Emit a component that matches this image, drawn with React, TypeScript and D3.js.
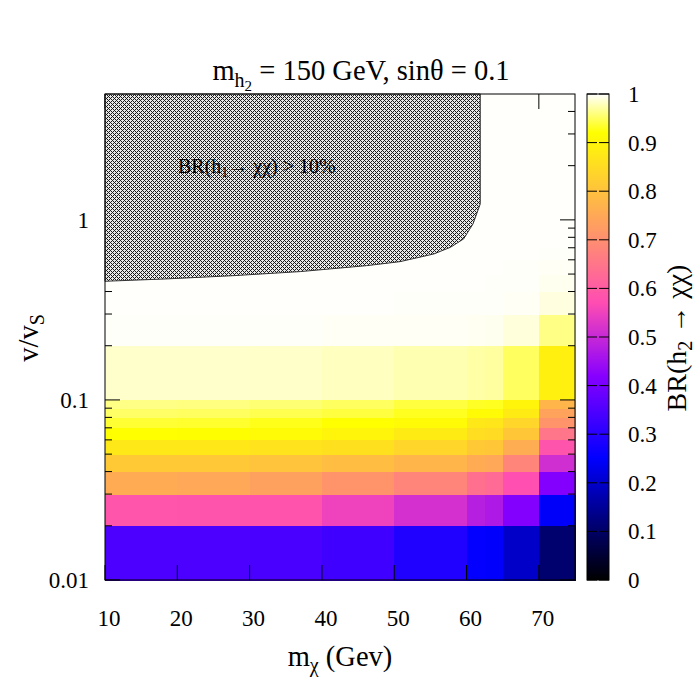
import React from 'react';
import * as d3 from 'd3';

// grid edges of the scan (m_chi in GeV, v/v_S)
const mChiEdges = [10, 20, 30, 40, 50, 60, 62.5, 65, 70, 75];
const vEdges = [
  0.01, 0.02, 0.03, 0.04, 0.05, 0.06, 0.07, 0.08, 0.09,
  0.1, 0.2, 0.3, 0.4, 0.5, 0.6, 0.7, 0.8, 0.9,
  1, 2, 3, 4, 5,
];

// BR(h2 -> chi chi), one row per v/v_S band (bottom to top), one value per m_chi column
const brValues = [
  [0.345, 0.345, 0.343, 0.33, 0.29, 0.255, 0.247, 0.196, 0.108],
  [0.587, 0.585, 0.583, 0.55, 0.515, 0.48, 0.47, 0.415, 0.245],
  [0.755, 0.75, 0.735, 0.71, 0.68, 0.64, 0.63, 0.575, 0.415],
  [0.815, 0.812, 0.805, 0.79, 0.775, 0.755, 0.75, 0.68, 0.51],
  [0.875, 0.872, 0.865, 0.86, 0.84, 0.815, 0.81, 0.76, 0.585],
  [0.92, 0.918, 0.91, 0.9, 0.88, 0.855, 0.85, 0.81, 0.65],
  [0.936, 0.934, 0.928, 0.92, 0.91, 0.875, 0.87, 0.84, 0.71],
  [0.952, 0.95, 0.945, 0.94, 0.93, 0.912, 0.91, 0.88, 0.74],
  [0.962, 0.96, 0.956, 0.95, 0.94, 0.932, 0.93, 0.9, 0.775],
  [0.984, 0.984, 0.983, 0.98, 0.976, 0.972, 0.97, 0.95, 0.89],
  [0.998, 0.998, 0.998, 0.997, 0.997, 0.996, 0.995, 0.989, 0.962],
  [0.999, 0.999, 0.999, 0.999, 0.998, 0.998, 0.998, 0.997, 0.99],
  [0.999, 0.999, 0.999, 0.999, 0.999, 0.999, 0.998, 0.998, 0.995],
  [0.999, 0.999, 0.999, 0.999, 0.999, 0.999, 0.999, 0.998, 0.997],
  [0.999, 0.999, 0.999, 0.999, 0.999, 0.999, 0.999, 0.999, 0.998],
  [0.999, 0.999, 0.999, 0.999, 0.999, 0.999, 0.999, 0.999, 0.999],
  [0.999, 0.999, 0.999, 0.999, 0.999, 0.999, 0.999, 0.999, 0.999],
  [0.999, 0.999, 0.999, 0.999, 0.999, 0.999, 0.999, 0.999, 0.999],
  [0.999, 0.999, 0.999, 0.999, 0.999, 0.999, 0.999, 0.999, 0.999],
  [0.999, 0.999, 0.999, 0.999, 0.999, 0.999, 0.999, 0.999, 0.999],
  [0.999, 0.999, 0.999, 0.999, 0.999, 0.999, 0.999, 0.999, 0.999],
  [0.999, 0.999, 0.999, 0.999, 0.999, 0.999, 0.999, 0.999, 0.999],
];

// boundary of the BR(h1 -> chi chi) > 10% region
const boundaryMChi = [10, 18.5, 27.8, 37, 46.2, 50.8, 55.5, 57.8, 59.6, 60.9, 61.9, 61.9, 10];
const boundaryV = [0.456, 0.47, 0.49, 0.516, 0.557, 0.586, 0.647, 0.705, 0.784, 0.95, 1.227, 5, 5];

const xTicks = [10, 20, 30, 40, 50, 60, 70];
const yMajor = [0.01, 0.1, 1];
const yMinor = [0.02, 0.03, 0.04, 0.05, 0.06, 0.07, 0.08, 0.09, 0.2, 0.3, 0.4, 0.5, 0.6, 0.7, 0.8, 0.9, 2, 3, 4];
const yLabels = ['0.01', '0.1', '1'];
const cbTicks = [0, 0.1, 0.2, 0.3, 0.4, 0.5, 0.6, 0.7, 0.8, 0.9, 1];
const cbLabels = ['0', '0.1', '0.2', '0.3', '0.4', '0.5', '0.6', '0.7', '0.8', '0.9', '1'];

// gnuplot rgbformulae 30,31,32
const clamp = (v: number) => Math.max(0, Math.min(1, v));
const palette = (t: number) => {
  const r = clamp(t / 0.32 - 0.78125);
  const g = clamp(2 * t - 0.84);
  let b: number;
  if (t < 0.25) b = 4 * t;
  else if (t < 0.42) b = 1;
  else if (t < 0.92) b = -2 * t + 1.84;
  else b = t / 0.08 - 11.5;
  b = clamp(b);
  return d3.rgb(r * 255, g * 255, b * 255).toString();
};

const FONT = '"Liberation Serif", "Times New Roman", serif';

// pixel tile for the crosshatch fill (4x4)
const hatchDots = [[0, 0], [1, 1], [2, 2], [3, 3], [1, 3], [3, 1]];

const App = () => {
  const left = 105, right = 575, top = 94, bottom = 580;
  const x = d3.scaleLinear().domain([10, 75]).range([left, right]);
  const y = d3.scaleLog().domain([0.01, 5]).range([bottom, top]);

  const cbLeft = 587, cbRight = 609;
  const cb = d3.scaleLinear().domain([0, 1]).range([bottom, top]);
  const cbSteps = d3.range(bottom, top, -1);

  const cells: { x0: number; x1: number; y0: number; y1: number; v: number }[] = [];
  brValues.forEach((row, i) => {
    row.forEach((v, j) => {
      cells.push({
        x0: x(mChiEdges[j]), x1: x(mChiEdges[j + 1]),
        y0: y(vEdges[i + 1]), y1: y(vEdges[i]), v,
      });
    });
  });

  const hatchPath = d3.line<number>()
    .x(i => x(boundaryMChi[i]))
    .y(i => y(boundaryV[i]))(d3.range(boundaryMChi.length)) + 'Z';

  const major = 15, minor = 7;

  return (
    <svg width={700} height={700} style={{ position: 'absolute', left: 0, top: 0, background: '#fff' }}
      fontFamily={FONT}>
      <defs>
        <pattern id="xhatch" width={4} height={4} patternUnits="userSpaceOnUse">
          <rect width={4} height={4} fill="#e8e8e8" />
          {hatchDots.map(([px, py], i) => (
            <rect key={i} x={px} y={py} width={1} height={1} fill="#1a1a1a" shapeRendering="crispEdges" />
          ))}
        </pattern>
      </defs>
      <rect width={700} height={700} fill="#fff" />

      {/* heatmap */}
      <g shapeRendering="crispEdges">
        {cells.map((c, i) => (
          <rect key={i} x={c.x0} y={c.y0} width={c.x1 - c.x0 + 0.5} height={c.y1 - c.y0 + 0.5}
            fill={palette(c.v)} />
        ))}
      </g>

      {/* ticks */}
      <g stroke="#000" strokeWidth={1}>
        {xTicks.map(t => (
          <g key={t}>
            <line x1={x(t)} x2={x(t)} y1={bottom} y2={bottom - major} />
            <line x1={x(t)} x2={x(t)} y1={top} y2={top + major} />
          </g>
        ))}
        {yMajor.map(t => (
          <g key={t}>
            <line x1={left} x2={left + major} y1={y(t)} y2={y(t)} />
            <line x1={right} x2={right - major} y1={y(t)} y2={y(t)} />
          </g>
        ))}
        {yMinor.map(t => (
          <g key={t}>
            <line x1={left} x2={left + minor} y1={y(t)} y2={y(t)} />
            <line x1={right} x2={right - minor} y1={y(t)} y2={y(t)} />
          </g>
        ))}
      </g>

      {/* excluded region */}
      <path d={hatchPath} fill="url(#xhatch)" stroke="#333" strokeWidth={1} />
      <text x={178} y={173} fontSize={20} fill="#000">
        BR(h<tspan fontSize={14} dy={4}>1</tspan><tspan dy={-4}>→ χχ) &gt; 10%</tspan>
      </text>

      <rect x={left} y={top} width={right - left} height={bottom - top} fill="none" stroke="#000" strokeWidth={1} />

      {/* tick labels */}
      <g fontSize={23} fill="#000">
        {xTicks.map(t => (
          <text key={t} x={x(t) + 4} y={626} textAnchor="middle">{t}</text>
        ))}
        {yMajor.map((t, i) => (
          <text key={t} x={89} y={y(t) + 8} textAnchor="end">{yLabels[i]}</text>
        ))}
      </g>

      {/* title and axis labels */}
      <text x={361} y={80} textAnchor="middle" fontSize={28.5}>
        m<tspan fontSize={20} dy={7}>h</tspan><tspan fontSize={15} dy={4}>2</tspan>
        <tspan dy={-11}> = 150 GeV, sinθ = 0.1</tspan>
      </text>
      <text x={340} y={666} textAnchor="middle" fontSize={28.5}>
        m<tspan fontSize={20} dy={6}>χ</tspan><tspan dy={-6}> (Gev)</tspan>
      </text>
      <text transform="translate(38,338) rotate(-90)" textAnchor="middle" fontSize={28.5}>
        v/v<tspan fontSize={20} dy={6}>S</tspan>
      </text>

      {/* colour box */}
      <g shapeRendering="crispEdges">
        {cbSteps.map(py => (
          <rect key={py} x={cbLeft} y={py - 1} width={cbRight - cbLeft} height={1.2}
            fill={palette(cb.invert(py - 0.5))} />
        ))}
      </g>
      <g stroke="#000" strokeWidth={1}>
        {cbTicks.map(t => (
          <g key={t}>
            <line x1={cbLeft} x2={cbLeft + 10} y1={cb(t)} y2={cb(t)} />
            <line x1={cbRight} x2={cbRight - 10} y1={cb(t)} y2={cb(t)} />
          </g>
        ))}
      </g>
      <rect x={cbLeft} y={top} width={cbRight - cbLeft} height={bottom - top} fill="none" stroke="#000" strokeWidth={1} />
      <g fontSize={23} fill="#000">
        {cbTicks.map((t, i) => (
          <text key={t} x={628} y={cb(t) + 8}>{cbLabels[i]}</text>
        ))}
      </g>
      <text transform="translate(686,338) rotate(-90)" textAnchor="middle" fontSize={28}>
        BR(h<tspan fontSize={20} dy={6}>2</tspan><tspan dy={-6}> → χχ)</tspan>
      </text>
    </svg>
  );
};

export default App;
